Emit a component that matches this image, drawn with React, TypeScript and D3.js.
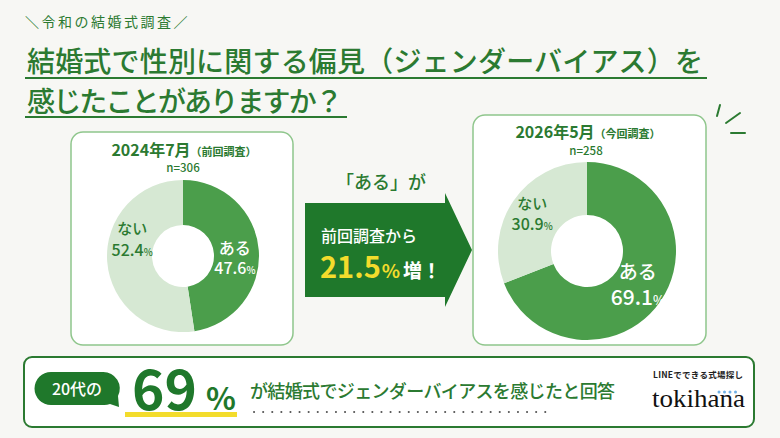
import React, { useEffect } from 'react';
import * as d3 from 'd3';

const W = 780;
const H = 438;

// survey data
const answers = ['ある', 'ない'];
const prevShares = [47.6, 52.4];
const currShares = [69.1, 30.9];
const surveyDates = ['2024年7月', '2026年5月'];
const surveyNotes = ['（前回調査）', '（今回調査）'];
const sampleSizes = [306, 258];
const increasePts = [21.5];
const twentiesShare = [69];

const JP = '"Noto Sans CJK JP", "Noto Sans", sans-serif';
const GREEN = '#2b7a31';
const DARK = '#1f782b';
const SLICE = ['#4b9e4b', '#d6e8d3'];
const CARD = '#8fc68c';
const YELLOW = '#f3dc2c';

type DonutProps = {
  cx: number;
  cy: number;
  ro: number;
  ri: number;
  values: number[];
  labelR: number;
  // per slice: [name size, value size, name dy, value dy, dx]
  fonts: number[][];
};

const Donut = ({ cx, cy, ro, ri, values, labelR, fonts }: DonutProps) => {
  const pie = d3.pie<number>().sort(null).value(d => d);
  const arcs = pie(values);
  const arc = d3.arc<d3.PieArcDatum<number>>().innerRadius(ri).outerRadius(ro);
  const labelArc = d3.arc<d3.PieArcDatum<number>>().innerRadius(labelR).outerRadius(labelR);

  return (
    <g transform={`translate(${cx},${cy})`}>
      {arcs.map((a, i) => (
        <path key={i} d={arc(a) || ''} fill={SLICE[i]} />
      ))}
      {arcs.map((a, i) => {
        const [x, y] = labelArc.centroid(a);
        const [ns, vs, ndy, vdy, dx] = fonts[i];
        const fill = i === 0 ? '#ffffff' : GREEN;
        return (
          <g key={'l' + i} fill={fill} fontFamily={JP} textAnchor="middle">
            <text x={x + dx} y={y + ndy} fontSize={ns} fontWeight={500}>{answers[i]}</text>
            <text x={x + dx} y={y + vdy} fontSize={vs} fontWeight={500}>
              {values[i].toFixed(1)}
              <tspan fontSize={vs * 0.6}>%</tspan>
            </text>
          </g>
        );
      })}
    </g>
  );
};

const App = () => {
  useEffect(() => {
    document.body.style.margin = '0';
  }, []);

  return (
    <svg width={W} height={H} viewBox={`0 0 ${W} ${H}`} style={{ display: 'block' }}>
      <rect width={W} height={H} fill="#f7f7f4" />

      {/* header */}
      <text x={25} y={27} fontFamily={JP} fontSize={14} fill={GREEN} letterSpacing={2.5}>＼令和の結婚式調査／</text>
      <text x={27} y={72} fontFamily={JP} fontSize={28} fontWeight={500} fill={GREEN} textLength={676} lengthAdjust="spacing">
        結婚式で性別に関する偏見（ジェンダーバイアス）を
      </text>
      <line x1={25} x2={707} y1={78} y2={78} stroke={GREEN} strokeWidth={2} />
      <text x={27} y={112} fontFamily={JP} fontSize={28} fontWeight={500} fill={GREEN} textLength={316} lengthAdjust="spacing">
        感じたことがありますか？
      </text>
      <line x1={25} x2={347} y1={117} y2={117} stroke={GREEN} strokeWidth={2} />

      {/* cards */}
      <rect x={71} y={132} width={222} height={213} rx={12} fill="#ffffff" stroke={CARD} strokeWidth={1.5} />
      <rect x={473} y={115} width={233} height={230} rx={12} fill="#ffffff" stroke={CARD} strokeWidth={1.5} />

      <text x={184} y={156} fontFamily={JP} fill={GREEN} textAnchor="middle">
        <tspan fontSize={16} fontWeight={700}>{surveyDates[0]}</tspan>
        <tspan fontSize={11} fontWeight={700}>{surveyNotes[0]}</tspan>
      </text>
      <text x={183} y={172} fontFamily={JP} fontSize={11.5} fontWeight={500} fill={GREEN} textAnchor="middle">n={sampleSizes[0]}</text>

      <text x={588} y={138} fontFamily={JP} fill={GREEN} textAnchor="middle">
        <tspan fontSize={16} fontWeight={700}>{surveyDates[1]}</tspan>
        <tspan fontSize={11} fontWeight={700}>{surveyNotes[1]}</tspan>
      </text>
      <text x={586} y={155} fontFamily={JP} fontSize={11.5} fontWeight={500} fill={GREEN} textAnchor="middle">n={sampleSizes[1]}</text>

      <Donut cx={183} cy={256} ro={76} ri={31} labelR={54} values={prevShares}
        fonts={[[16, 16, 2, 22, -2], [15, 16, -26, -4, 3]]} />
      <Donut cx={587} cy={251} ro={89} ri={36} labelR={64} values={currShares}
        fonts={[[19, 21, -8, 18, -2], [15, 16, -6, 15, -2]]} />

      {/* arrow */}
      <text x={381} y={189} fontFamily={JP} fontSize={18} fontWeight={500} fill={GREEN} textAnchor="middle">「ある」が</text>
      <path d="M305,203 H445 V193 L472,250 L445,307 V297 H305 Z" fill={DARK} />
      <text x={321} y={242} fontFamily={JP} fontSize={16} fontWeight={500} fill="#ffffff">前回調査から</text>
      <text x={320} y={278} fontFamily={JP} fontWeight={700}>
        <tspan fill={YELLOW} fontSize={29}>{increasePts[0]}</tspan>
        <tspan fill={YELLOW} fontSize={19} dx={1}>%</tspan>
        <tspan fill="#ffffff" fontSize={19} dx={3}>増！</tspan>
      </text>

      {/* sparkle strokes */}
      <g stroke={GREEN} strokeWidth={2} strokeLinecap="round">
        <line x1={720} y1={105} x2={717} y2={116} />
        <line x1={726} y1={123} x2={740} y2={113} />
        <line x1={731} y1={133} x2={745} y2={133} />
      </g>

      {/* bottom banner */}
      <rect x={24} y={357} width={730} height={70} rx={8} fill="#ffffff" stroke={GREEN} strokeWidth={2} />
      <path d="M51,372 H103 A16.5,16.5 0 0 1 118,396 L119,407 L110,404 A16.5,16.5 0 0 1 103,405 H51 A16.5,16.5 0 0 1 51,372 Z" fill={DARK} />
      <text x={77} y={395} fontFamily={JP} fontSize={16} fontWeight={500} fill="#ffffff" textAnchor="middle">20代の</text>
      <rect x={125} y={412} width={112} height={5} fill={YELLOW} />
      <text x={132} y={410} fontFamily={JP} fontWeight={700} fill={DARK}>
        <tspan fontSize={55}>{twentiesShare[0]}</tspan>
        <tspan fontSize={31} dx={9}>%</tspan>
      </text>
      <text x={250} y={398} fontFamily={JP} fontSize={18} fontWeight={500} fill={GREEN} textLength={365} lengthAdjust="spacing">
        が結婚式でジェンダーバイアスを感じたと回答
      </text>
      <line x1={254} x2={552} y1={412} y2={412} stroke="#555" strokeWidth={2} strokeDasharray="0.1 9" strokeLinecap="round" />

      {/* logo */}
      <text x={653} y={378} fontFamily={JP} fontSize={8.5} fontWeight={700} fill="#222" textLength={90} lengthAdjust="spacing">LINEでできる式場探し</text>
      <g fill="#6fb0e6">
        {[0, 1, 2, 3].map(i => (
          <circle key={i} cx={719 + i * 5.5} cy={392} r={1.5} />
        ))}
      </g>
      <text x={652} y={407} fontFamily='"Liberation Serif", "DejaVu Serif", serif' fontSize={25} fill="#111" textLength={93} lengthAdjust="spacingAndGlyphs">tokihana</text>
    </svg>
  );
};

export default App;
